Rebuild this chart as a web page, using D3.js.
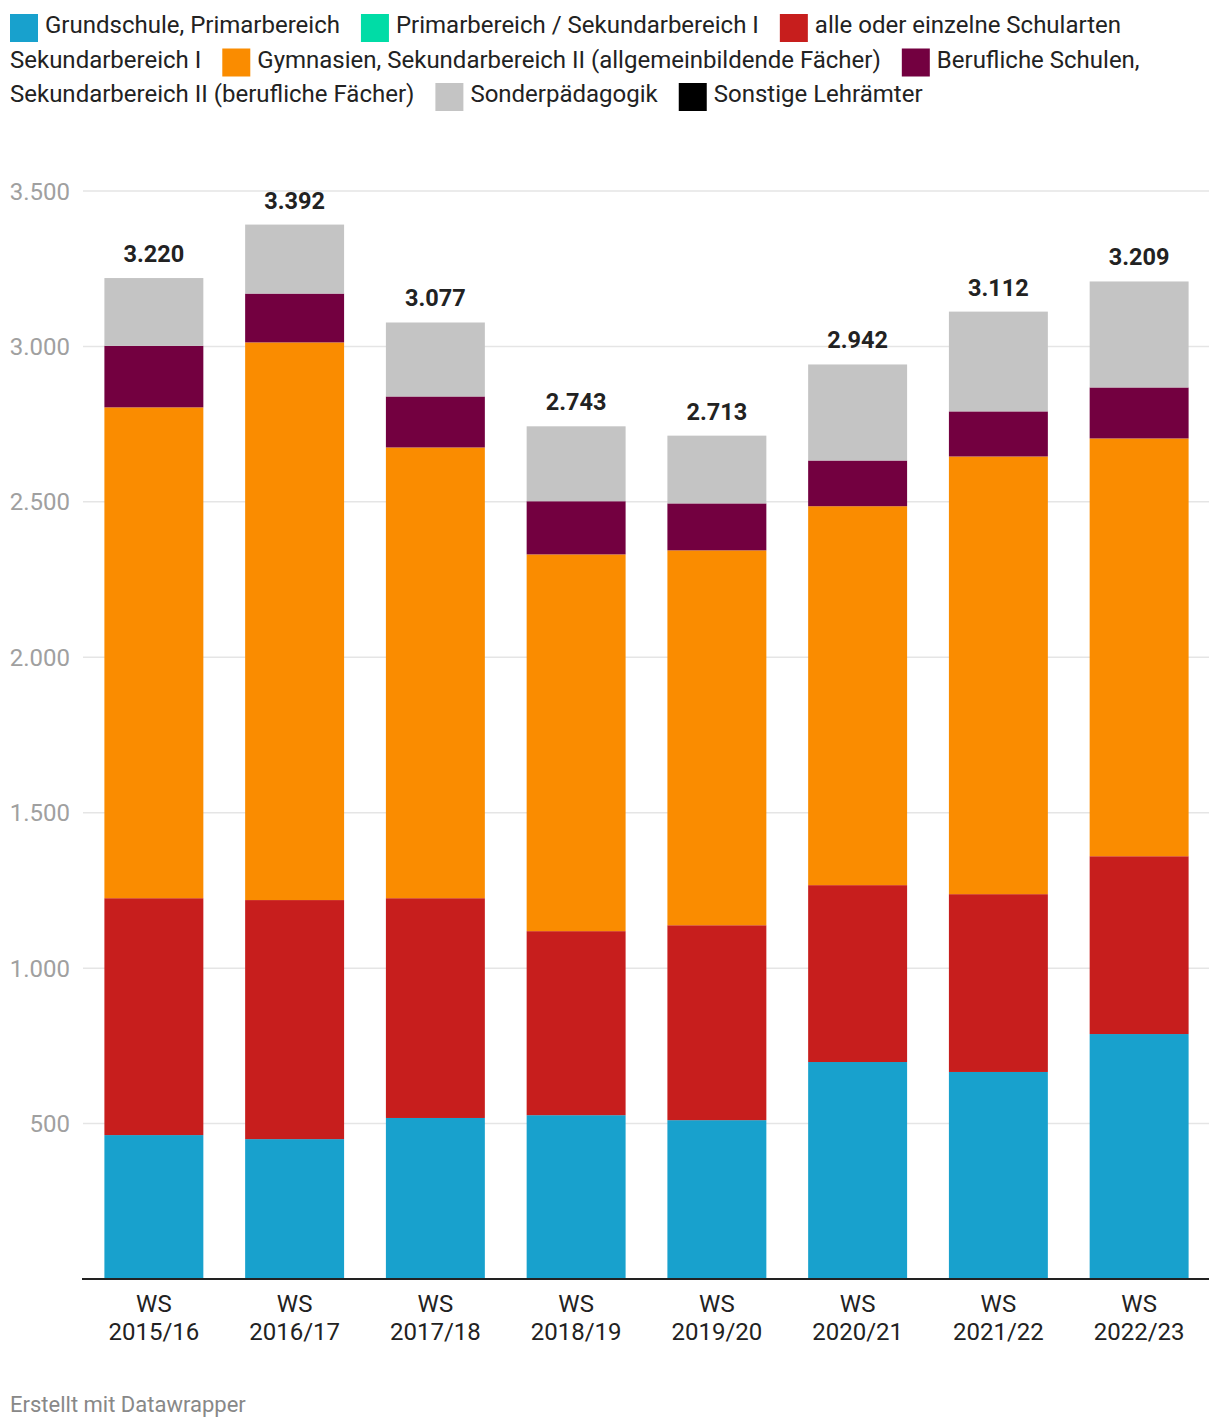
<!DOCTYPE html>
<html><head><meta charset="utf-8">
<script src="https://cdn.jsdelivr.net/npm/d3@7"></script>
<style>
html,body{margin:0;padding:0;background:#fff;}
svg{display:block;font-family:Roboto,"Noto Sans",sans-serif;}
</style></head>
<body>
<svg id="chart" width="1220" height="1428"></svg>
<script>
const categories = ["WS 2015/16","WS 2016/17","WS 2017/18","WS 2018/19","WS 2019/20","WS 2020/21","WS 2021/22","WS 2022/23"];
const seriesNames = ["Grundschule, Primarbereich","Primarbereich / Sekundarbereich I","alle oder einzelne Schularten Sekundarbereich I","Gymnasien, Sekundarbereich II (allgemeinbildende Fächer)","Berufliche Schulen, Sekundarbereich II (berufliche Fächer)","Sonderpädagogik","Sonstige Lehrämter"];
const seriesColors = ["#18a1cd","#00dca6","#c71e1d","#fa8c00","#730040","#c4c4c4","#000000"];
const grundschule   = [463, 450, 518, 527, 511, 698, 666, 788];
const primSek       = [0, 0, 0, 0, 0, 0, 0, 0];
const alleSchularten= [762, 769, 707, 592, 627, 569, 572, 572];
const gymnasien     = [1579, 1794, 1450, 1212, 1206, 1219, 1408, 1344];
const beruflich     = [198, 157, 164, 171, 151, 147, 145, 164];
const sonder        = [218, 222, 238, 241, 218, 309, 321, 341];
const sonstige      = [0, 0, 0, 0, 0, 0, 0, 0];
const totals        = [3220, 3392, 3077, 2743, 2713, 2942, 3112, 3209];
const yTicks = [500, 1000, 1500, 2000, 2500, 3000, 3500];

const seriesValues = [grundschule, primSek, alleSchularten, gymnasien, beruflich, sonder, sonstige];
const rows = categories.map((c,i)=>{const r={cat:c}; seriesNames.forEach((s,j)=>r[s]=seriesValues[j][i]); return r;});
const stack = d3.stack().keys(seriesNames)(rows);

const svg = d3.select("#chart");
const fmt = d3.formatLocale({decimal:",",thousands:".",grouping:[3],currency:["","€"]}).format(",d");

const x = d3.scaleBand().domain(categories).range([83,1210]).paddingInner(0.297).paddingOuter(0.152);
const y = d3.scaleLinear().domain([0,3500]).range([1279,191]);

// grid
const grid = svg.append("g");
grid.selectAll("line").data(yTicks).join("line")
  .attr("x1",83).attr("x2",1209).attr("y1",d=>y(d)).attr("y2",d=>y(d))
  .attr("stroke","#e5e5e5").attr("stroke-width",1.5);
svg.append("g").selectAll("text").data(yTicks).join("text")
  .attr("x",70).attr("y",d=>y(d)+8.5).attr("text-anchor","end")
  .attr("font-size",24).attr("fill","#a0a0a0").text(d=>fmt(d));

// bars
svg.append("g").selectAll("g").data(stack).join("g")
  .attr("fill",(d,i)=>seriesColors[i])
  .selectAll("rect").data(d=>d).join("rect")
  .attr("x",d=>x(d.data.cat)).attr("width",x.bandwidth())
  .attr("y",d=>y(d[1])).attr("height",d=>Math.max(0,y(d[0])-y(d[1])));

// totals
svg.append("g").selectAll("text").data(categories).join("text")
  .attr("x",d=>x(d)+x.bandwidth()/2).attr("y",(d,i)=>y(totals[i])-16)
  .attr("text-anchor","middle").attr("font-size",23.5).attr("font-weight","bold").attr("fill","#222")
  .text((d,i)=>fmt(totals[i]));

// x axis
svg.append("line").attr("x1",82).attr("x2",1209).attr("y1",1279).attr("y2",1279)
  .attr("stroke","#222").attr("stroke-width",2);
const xl = svg.append("g").selectAll("text").data(categories).join("text")
  .attr("x",d=>x(d)+x.bandwidth()/2).attr("text-anchor","middle")
  .attr("font-size",24).attr("fill","#222");
xl.append("tspan").attr("x",d=>x(d)+x.bandwidth()/2).attr("y",1312).text(d=>d.split(" ")[0]);
xl.append("tspan").attr("x",d=>x(d)+x.bandwidth()/2).attr("y",1340).text(d=>d.split(" ")[1]);

// legend with wrapping
const leg = svg.append("g").attr("font-size",24).attr("fill","#222");
const maxX = 1210, lineH = 34.5;
let cx = 10, line = 0;
const base = 33;
const measure = leg.append("text").attr("visibility","hidden");
function w(t){measure.text(t); return measure.node().getComputedTextLength();}
seriesNames.forEach((name,i)=>{
  if (cx + 28 > maxX){ line++; cx = 10; }
  leg.append("rect").attr("x",cx).attr("y",base+line*lineH-19).attr("width",28).attr("height",28).attr("fill",seriesColors[i]);
  cx += 35;
  const words = name.split(" ");
  let cur = "", startX = cx;
  words.forEach((wd,k)=>{
    const test = cur ? cur+" "+wd : wd;
    if (startX + w(test) > maxX && cur){
      leg.append("text").attr("x",startX).attr("y",base+line*lineH).text(cur);
      line++; startX = 10; cur = wd;
    } else cur = test;
  });
  leg.append("text").attr("x",startX).attr("y",base+line*lineH).text(cur);
  cx = startX + w(cur) + 21;
});
measure.remove();

// footer
svg.append("text").attr("x",10).attr("y",1412).attr("font-size",22).attr("fill","#888").text("Erstellt mit Datawrapper");
</script>
</body></html>
